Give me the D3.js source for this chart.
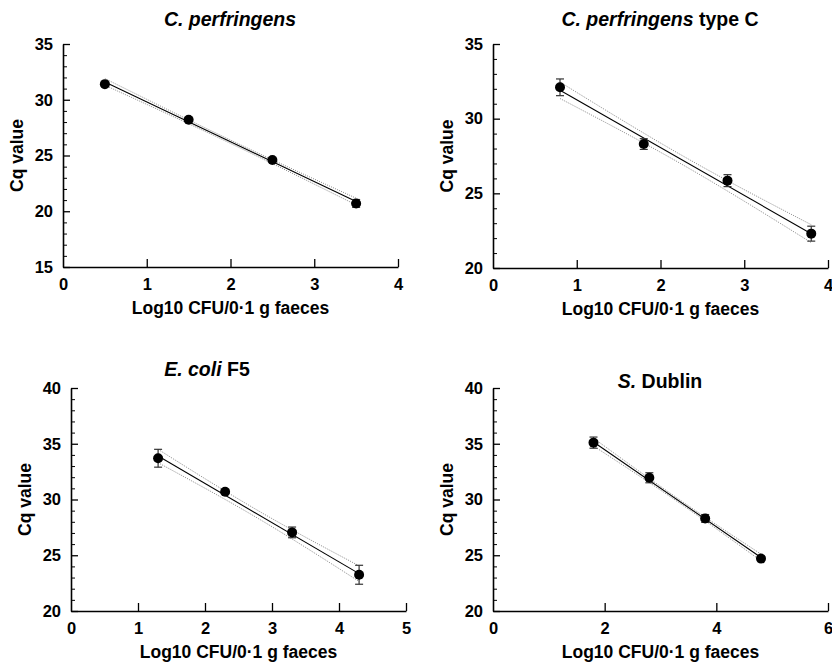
<!DOCTYPE html>
<html><head><meta charset="utf-8">
<script src="https://cdn.jsdelivr.net/npm/d3@7"></script>
<style>
body{margin:0;background:#fff;}
svg{font-family:"Liberation Sans",Arial,sans-serif;}
</style></head>
<body><svg id="c" width="832" height="669"></svg>
<script>
// ---- data ----
const titlesItalic = ["C. perfringens", "C. perfringens", "E. coli", "S."];
const titlesPlain  = ["", " type C", " F5", " Dublin"];
const xLabel = "Log10 CFU/0\u00B71 g faeces";
const yLabel = "Cq value";

const xVals1 = [0.5, 1.5, 2.5, 3.5];
const yVals1 = [31.4, 28.2, 24.6, 20.7];
const err1   = [0.15, 0.15, 0.15, 0.35];
const fit1   = [31.6, 20.87];
const band1  = [0.3, 0.15, 0.3];

const xVals2 = [0.8, 1.8, 2.8, 3.8];
const yVals2 = [32.1, 28.3, 25.85, 22.3];
const err2   = [0.56, 0.36, 0.4, 0.5];
const fit2   = [31.9, 22.3];
const band2  = [0.55, 0.3, 0.6];

const xVals3 = [1.3, 2.3, 3.3, 4.3];
const yVals3 = [33.7, 30.7, 27.05, 23.25];
const err3   = [0.8, 0.2, 0.48, 0.85];
const fit3   = [33.9, 23.35];
const band3  = [0.6, 0.35, 0.7];

const xVals4 = [1.8, 2.8, 3.8, 4.8];
const yVals4 = [35.1, 31.95, 28.3, 24.7];
const err4   = [0.5, 0.45, 0.35, 0.1];
const fit4   = [35.15, 24.8];
const band4  = [0.35, 0.15, 0.3];

const xDomains = [[0,4],[0,4],[0,5],[0,6]];
const yDomains = [[15,35],[20,35],[20,40],[20,40]];
const xTickVals = [[0,1,2,3,4],[0,1,2,3,4],[0,1,2,3,4,5],[0,2,4,6]];
const yTickVals = [[15,20,25,30,35],[20,25,30,35],[20,25,30,35,40],[20,25,30,35,40]];

// ---- layout ----
const panels = [
  {x0:63, x1:398, yTop:44, yBot:267, tx:230, ty:26},
  {x0:493, x1:828, yTop:44, yBot:268, tx:660, ty:26},
  {x0:71, x1:406, yTop:388, yBot:611, tx:207, ty:376},
  {x0:493, x1:828, yTop:388, yBot:611, tx:660, ty:388}
];
const data = [
  {xs:xVals1, ys:yVals1, err:err1, fit:fit1, band:band1},
  {xs:xVals2, ys:yVals2, err:err2, fit:fit2, band:band2},
  {xs:xVals3, ys:yVals3, err:err3, fit:fit3, band:band3},
  {xs:xVals4, ys:yVals4, err:err4, fit:fit4, band:band4}
];

const svg = d3.select("#c");
const fmt = d3.format("d");

panels.forEach((p, i) => {
  const d = data[i];
  const x = d3.scaleLinear().domain(xDomains[i]).range([p.x0, p.x1]);
  const y = d3.scaleLinear().domain(yDomains[i]).range([p.yBot, p.yTop]);
  const g = svg.append("g");

  // minor y ticks (every 1 unit)
  const minor = d3.range(yDomains[i][0], yDomains[i][1] + 0.001, 1).filter(v => v % 5 !== 0);
  g.append("g").attr("transform", `translate(${p.x0},0)`)
    .call(d3.axisRight(y).tickValues(minor).tickSize(4).tickFormat(""))
    .call(s => s.select(".domain").remove())
    .selectAll("line").attr("stroke", "#000").attr("stroke-width", 1);

  // major y axis
  const ya = g.append("g").attr("transform", `translate(${p.x0},0)`)
    .call(d3.axisRight(y).tickValues(yTickVals[i]).tickFormat(fmt).tickSize(7).tickSizeOuter(0));
  ya.select(".domain").attr("stroke", "#000").attr("stroke-width", 1.6);
  ya.selectAll("line").attr("stroke", "#000").attr("stroke-width", 1.3);
  ya.selectAll("text").attr("x", -10).attr("text-anchor", "end")
    .attr("font-size", 16.5).attr("font-weight", "bold").attr("fill", "#000")
    .attr("font-family", "Liberation Sans, Arial, sans-serif");

  // x axis
  const xa = g.append("g").attr("transform", `translate(0,${p.yBot})`)
    .call(d3.axisTop(x).tickValues(xTickVals[i]).tickFormat(fmt).tickSize(8).tickSizeOuter(0));
  xa.select(".domain").attr("stroke", "#000").attr("stroke-width", 1.6);
  xa.selectAll("line").attr("stroke", "#000").attr("stroke-width", 1.3);
  xa.selectAll(".tick").filter(v => v === 0).select("line").remove();
  xa.selectAll("text").attr("y", 23).attr("dy", 0)
    .attr("font-size", 16.5).attr("font-weight", "bold").attr("fill", "#000")
    .attr("font-family", "Liberation Sans, Arial, sans-serif");

  // axis labels
  g.append("text").attr("x", (p.x0 + p.x1) / 2).attr("y", p.yBot + 47)
    .attr("text-anchor", "middle").attr("font-size", 17.5).attr("font-weight", "bold")
    .text(xLabel);
  g.append("text")
    .attr("transform", `translate(${p.x0 - 46},${(p.yTop + p.yBot) / 2}) rotate(-90)`)
    .attr("text-anchor", "middle").attr("dominant-baseline", "central")
    .attr("font-size", 17.5).attr("font-weight", "bold").text(yLabel);

  // title
  const t = g.append("text").attr("x", p.tx).attr("y", p.ty)
    .attr("text-anchor", "middle").attr("font-size", 19.5).attr("font-weight", "bold");
  t.append("tspan").attr("font-style", "italic").text(titlesItalic[i]);
  if (titlesPlain[i]) t.append("tspan").text(titlesPlain[i]);

  // fit line and bands
  const xa0 = d.xs[0], xa1 = d.xs[d.xs.length - 1], xm = (xa0 + xa1) / 2;
  const fitAt = v => d.fit[0] + (d.fit[1] - d.fit[0]) * (v - xa0) / (xa1 - xa0);
  const bx = [xa0, xm, xa1];
  const line = d3.line().x(e => x(e[0])).y(e => y(e[1])).curve(d3.curveNatural);
  [1, -1].forEach(sg => {
    g.append("path")
      .attr("d", line(bx.map((v, k) => [v, fitAt(v) + sg * d.band[k]])))
      .attr("fill", "none").attr("stroke", "#8a8a8a").attr("stroke-width", 1)
      .attr("stroke-dasharray", "1,1.2");
  });
  g.append("line").attr("x1", x(xa0)).attr("x2", x(xa1))
    .attr("y1", y(d.fit[0])).attr("y2", y(d.fit[1]))
    .attr("stroke", "#000").attr("stroke-width", 1.1);

  // error bars
  d.xs.forEach((v, k) => {
    const cx = x(v), top = y(d.ys[k] + d.err[k]), bot = y(d.ys[k] - d.err[k]);
    g.append("line").attr("x1", cx).attr("x2", cx).attr("y1", top).attr("y2", bot)
      .attr("stroke", "#333").attr("stroke-width", 1.2);
    [top, bot].forEach(yy => g.append("line").attr("x1", cx - 4).attr("x2", cx + 4)
      .attr("y1", yy).attr("y2", yy).attr("stroke", "#333").attr("stroke-width", 1.2));
  });
  // points
  g.selectAll("circle.pt").data(d.xs).enter().append("circle")
    .attr("cx", v => x(v)).attr("cy", (v, k) => y(d.ys[k])).attr("r", 5).attr("fill", "#000");
});
</script>
</body></html>
